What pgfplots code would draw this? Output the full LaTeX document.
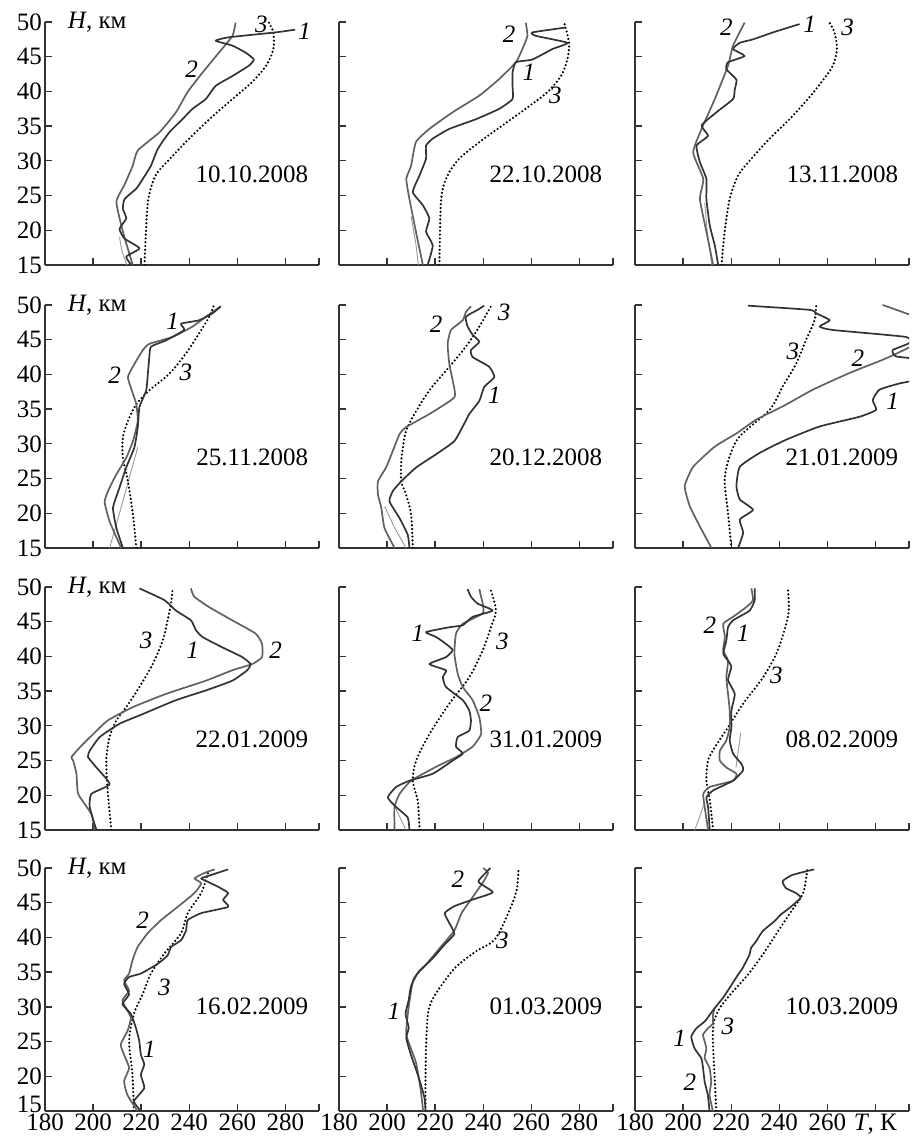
\documentclass[border=0pt]{standalone}
\usepackage{fontspec}
\setmainfont{Liberation Serif}
\usepackage{pgfplots}
\pgfplotsset{compat=1.18}
\pgfplotsset{
 panel/.style={
  scale only axis, width=274pt, height=243pt,
  xmin=180, xmax=294, ymin=15, ymax=50,
  xtick={180,200,...,280}, extra x ticks={294}, extra x tick labels={},
  ytick={15,20,...,50},
  axis x line*=bottom, axis y line*=left,
  axis line style={line width=1.3pt, black!80},
  tick align=inside, major tick length=7pt,
  every tick/.style={line width=1.3pt, black!80},
  xticklabels={}, yticklabels={},
  xticklabel style={inner sep=3pt},
  yticklabel style={inner sep=3pt},
  clip mode=individual,
 },
 leftcol/.style={yticklabels={15,20,25,30,35,40,45,50}},
 botrow/.style={xticklabels={180,200,220,240,260,280}},
 l1/.style={black!80, line width=1.7pt, line join=round, smooth, tension=0.3},
 l2/.style={black!62, line width=1.7pt, line join=round, smooth, tension=0.3},
 l3/.style={black, line width=2.4pt, dash pattern=on 0pt off 3.8pt, line cap=round, smooth},
 lg/.style={black!40, line width=0.9pt},
}
\newcommand{\lab}[3]{\node[font=\itshape] at (axis cs:#1,#2) {#3};}
\begin{document}
\fontsize{25}{30}\selectfont
\begin{tikzpicture}
\useasboundingbox (0,0) rectangle (912pt,1139pt);
% ---------- Row 1 ----------
\begin{axis}[panel, leftcol, at={(45pt,1117pt)}, anchor=north west]
\addplot[lg] coordinates {(214,15) (212,17) (211,19)};
\addplot[l3] coordinates {(221.4,15) (222,19.8) (223,24.5) (226,27.9) (232,30.3) (240,33.2) (250,36.5) (258,38.9) (266,41.3) (272,43.7) (275,46.1) (275,48.5) (273,50)};
\addplot[l2] coordinates {(216.5,15) (212.4,19.8) (209.7,24.1) (213,26.5) (216.5,29.3) (218.6,31.5) (227.6,34.1) (234.5,37) (239.3,39.9) (245.5,42.7) (252.4,45.6) (258,48) (259.3,49.9)};
\addplot[l1] coordinates {(215.9,15) (213.8,16.2) (219.3,17.4) (213.1,18.8) (211,20.2) (213.8,21.7) (212.4,23.1) (213.1,24.5) (218,26) (220.7,27.4) (224.1,29.3) (226.9,31.7) (231.7,34.1) (237.2,36) (241.4,37.5) (246.9,38.9) (251,40.8) (257.9,42.2) (264.8,43.7) (266.9,44.6) (263.4,45.6) (257.9,46.6) (251,47.3) (256.6,47.8) (275.9,48.5) (284.1,48.9)};
\lab{270}{49.6}{3}\lab{288}{48.7}{1}\lab{241}{43.2}{2}
\node[anchor=base west] at (axis cs:186,49.1) {\textit{H}, км};
\node[anchor=east] at (axis cs:293,28) {10.10.2008};
\end{axis}
\begin{axis}[panel, at={(339pt,1117pt)}, anchor=north west]
\addplot[lg] coordinates {(213,15) (212,18) (210,22)};
\addplot[l3] coordinates {(221.8,15) (222.5,24.5) (225.2,27.9) (230,30.3) (238.4,32.7) (248,35.1) (257.7,37.5) (266.7,39.9) (272.3,42.2) (275,44.6) (275.7,47) (273.6,50)};
\addplot[l2] coordinates {(214.9,15) (212,19.8) (209.3,24.5) (208,27.4) (210,29.3) (212,32.7) (217.6,34.6) (227.3,37) (238.4,39.4) (246.7,41.8) (253.6,44.2) (256.3,46.1) (258.4,48) (257.7,49.9)};
\addplot[l1] coordinates {(216.9,15) (219,17.8) (216.2,19.8) (217.6,21.7) (214.9,23.6) (210.7,25.5) (213.5,27.9) (216.2,30.3) (216.2,32.2) (219,33.2) (225.9,34.6) (237,36) (246.7,37.5) (252.2,38.9) (252.2,40.8) (252.2,42.7) (253.6,44.2) (260.5,44.6) (268.8,46.1) (275,47) (261.9,48) (260.5,48.5) (274.3,49.2)};
\lab{250.8}{48.2}{2}\lab{259}{42.7}{1}\lab{270}{39.4}{3}
\node[anchor=east] at (axis cs:293,28) {22.10.2008};
\end{axis}
\begin{axis}[panel, at={(635pt,1117pt)}, anchor=north west]
\addplot[lg] coordinates {(212,15) (210,20) (209,24)};
\addplot[l3] coordinates {(216,15) (217.3,19.8) (219.4,24.5) (222.9,27.9) (228.4,30.3) (236,33.2) (244.3,36) (251.9,38.9) (257.5,41.3) (262.3,43.7) (264,46.1) (263,48.5) (260.9,49.9)};
\addplot[l2] coordinates {(212.5,15) (209.7,19.8) (207,24.5) (208.4,27.4) (204.2,31.2) (207.7,34.6) (213.2,38.9) (218.7,43.7) (220.8,46.6) (225.6,49.9)};
\addplot[l1] coordinates {(214.6,15) (213.2,17.8) (211.1,20.7) (209.7,24.5) (209.7,27.4) (207,29.8) (205.6,32.2) (210.4,33.6) (207.7,35.1) (213.9,37) (220.8,38.9) (221.5,40.3) (222.2,41.7) (218,43.2) (218.7,44.2) (225.6,45.1) (220.8,46.1) (223.6,47) (229.1,47.5) (237.4,48.5) (248.5,49.7)};
\lab{218}{49.2}{2}\lab{252.6}{49.7}{1}\lab{268.5}{49.2}{3}
\node[anchor=east] at (axis cs:293,28) {13.11.2008};
\end{axis}
% ---------- Row 2 ----------
\begin{axis}[panel, leftcol, at={(45pt,834pt)}, anchor=north west]
\addplot[lg] coordinates {(206.9,15) (211,20) (215,25) (218.6,29.5)};
\addplot[l3] coordinates {(218,15) (216.6,19.8) (214.5,24.6) (212.4,28) (212.4,30.9) (214.5,33.3) (218,35.7) (223.4,37.7) (231.7,40.1) (238.6,43) (244.1,45.9) (248.3,48.3) (250.3,50)};
\addplot[l2] coordinates {(211.7,15) (206.9,18.8) (204.8,21.7) (206.9,23.7) (209.7,25.6) (213.8,28) (216.6,30.4) (218.6,33.3) (218,35.7) (216.6,37.2) (214.5,39.6) (217.2,41.5) (220.7,43.5) (223.4,44.4) (233.1,45.4) (241.4,46.9) (246.9,48.3) (253.1,49.8)};
\addplot[l1] coordinates {(212.4,15) (209.7,17.9) (208.3,20.8) (211,23.7) (213.8,26.6) (217.2,29.5) (218.6,32.4) (219.3,35.3) (222.1,37.7) (222.8,40.1) (223.4,42.5) (224.1,44) (230.3,44.9) (237.9,46.4) (236.6,47.3) (244.1,47.8) (249.7,48.8) (253.1,49.8)};
\lab{233.1}{47.6}{1}\lab{209}{39.9}{2}\lab{238.6}{40.3}{3}
\node[anchor=base west] at (axis cs:186,49.1) {\textit{H}, км};
\node[anchor=east] at (axis cs:293,28) {25.11.2008};
\end{axis}
\begin{axis}[panel, at={(339pt,834pt)}, anchor=north west]
\addplot[lg] coordinates {(207.9,15) (203,18) (199,21)};
\addplot[l3] coordinates {(210.7,15) (210,19.8) (207.9,22.7) (205.9,24.6) (205.9,27.5) (206.6,29.5) (207.9,31.9) (211.4,34.3) (217.6,37.7) (225.9,41.1) (232.8,44) (238.4,46.9) (243.2,49.8)};
\addplot[l2] coordinates {(203.1,15) (198.9,17.9) (197.6,20.8) (196.2,22.7) (196.2,24.6) (199.6,26.6) (202.4,29) (205.2,31.4) (207.9,32.4) (217.6,34.3) (228,36.7) (227.3,39.1) (225.9,41.5) (225.2,44.4) (226.6,46.4) (231.5,47.8) (232.8,49) (234.9,49.8)};
\addplot[l1] coordinates {(209.3,15) (208.6,16.9) (205.2,19.3) (201,21.7) (202.4,23.2) (205.9,24.6) (212.1,26.6) (220.4,28.5) (228,30.4) (232.1,32.9) (234.2,34.3) (238.4,36.2) (240.4,38.2) (244.6,39.6) (242.5,41.1) (235.6,42.5) (234.9,43.5) (238.4,44.7) (235.6,45.7) (233.5,46.9) (232.8,48.3) (237.7,49.3) (240.4,49.9)};
\lab{220.4}{47.3}{2}\lab{244.6}{37}{1}\lab{248.7}{49}{3}
\node[anchor=east] at (axis cs:293,28) {20.12.2008};
\end{axis}
\begin{axis}[panel, at={(635pt,834pt)}, anchor=north west]
\addplot[l3] coordinates {(220.1,15) (218.7,20) (217.3,24.8) (219.4,28.2) (223.6,31.1) (236,34.9) (241.5,38.3) (247.1,41.6) (251.2,45) (254.7,47.8) (255.4,50)};
\addplot[l2] coordinates {(211.8,15) (207,18.1) (202.8,21) (200.7,23.9) (204.2,26.7) (213.2,29.6) (222.2,31.5) (230.5,33.5) (241.5,35.4) (254,37.8) (269.2,40.2) (283,42.1) (290.6,43.3) (300,45) (302,47) (295,48.5) (283,50)};
\addplot[l1] coordinates {(222.9,15) (225,17.2) (223.6,19.1) (229.1,20.5) (223.6,22) (222.2,23.9) (223.6,26.7) (231.9,28.7) (242.9,30.6) (256.8,32.5) (273.4,33.9) (280.3,34.9) (278.9,36.3) (281.7,37.8) (290,38.7) (300,39.5) (300,42) (288.6,42.6) (287.2,43.5) (294,44.5) (292.7,45.4) (262.3,46.4) (256.8,46.9) (261,47.8) (255.4,48.8) (252.6,49.3) (227,49.9)};
\lab{245.7}{43.3}{3}\lab{272.7}{42.3}{2}\lab{287.2}{36.1}{1}
\node[anchor=east] at (axis cs:293,28) {21.01.2009};
\end{axis}
% ---------- Row 3 ----------
\begin{axis}[panel, leftcol, at={(45pt,552pt)}, anchor=north west]
\addplot[l3] coordinates {(207.6,15) (206.2,20.2) (205.5,25) (206.9,28.4) (209.7,30.8) (213.8,32.7) (219.3,35.6) (224.8,38.9) (229,42.3) (231,45.2) (232.4,47.6) (233.1,49.8)};
\addplot[l2] coordinates {(200.7,15) (199.3,17.3) (193.8,20.2) (193.1,23.1) (191.7,25) (191,25.5) (194.5,26.9) (200,28.8) (206.2,30.8) (216.6,32.7) (230.3,34.6) (246.9,36.5) (257.9,38) (266.2,38.9) (270.3,39.9) (270.3,41.8) (267.6,43.3) (257.9,45.2) (248.3,47.1) (242.1,48.6) (240.7,49.8)};
\addplot[l1] coordinates {(201.4,15) (198.6,18.3) (199.3,20.2) (206.9,21.6) (201.4,24) (197.9,25.5) (198.6,26.4) (202.8,28.4) (211,30.3) (220.7,31.7) (234.5,33.7) (246.9,35.1) (257.9,36.5) (264.1,38) (265.5,38.9) (262.1,39.9) (253.8,41.3) (245.5,42.8) (242.8,43.8) (240.7,45.2) (234.5,46.6) (229.7,48.1) (219.3,49.8)};
\lab{222.1}{42.3}{3}\lab{241.4}{40.9}{1}\lab{275.9}{40.9}{2}
\node[anchor=base west] at (axis cs:186,49.1) {\textit{H}, км};
\node[anchor=east] at (axis cs:293,28) {22.01.2009};
\end{axis}
\begin{axis}[panel, at={(339pt,552pt)}, anchor=north west]
\addplot[lg] coordinates {(207.9,15) (203,18.5)};
\addplot[l3] coordinates {(213.5,15) (212.8,19.1) (210.7,22.1) (212.1,25) (217.6,28.8) (225.9,33.2) (234.2,37) (239.8,40.9) (243.2,44.2) (245.3,46.6) (243.2,49.5)};
\addplot[l2] coordinates {(203.1,15) (203.1,18.3) (205.2,20.2) (210,22.1) (220.4,24.1) (228.7,25.5) (235.6,27) (239.1,28.8) (238.4,31.2) (235.6,33.7) (231.5,35.6) (229.4,37.5) (228,40.4) (228.7,43.3) (231.5,44.7) (239.8,46.2) (239.8,47.6) (239.1,48.6) (238.4,49.7)};
\addplot[l1] coordinates {(209.3,15) (208.6,16.8) (203.8,18.3) (200.3,19.7) (203.8,21.2) (209.3,22.1) (219,23.1) (227.3,25) (231.5,26) (228.7,27) (229.4,28.4) (234.2,29.3) (234.9,30.8) (234.2,32.2) (231.5,33.7) (224.5,35.6) (223.2,37) (224.5,38) (217.6,38.9) (224.5,39.9) (227.3,40.9) (224.5,41.8) (220.4,42.8) (216.2,43.5) (225.9,44.2) (231.5,44.5) (235.6,45.7) (243.9,46.6) (237.7,47.6) (234.9,48.6) (233.5,49.7)};
\lab{212.8}{43.3}{1}\lab{248}{42.1}{3}\lab{241.1}{33.2}{2}
\node[anchor=east] at (axis cs:293,28) {31.01.2009};
\end{axis}
\begin{axis}[panel, at={(635pt,552pt)}, anchor=north west]
\addplot[lg] coordinates {(204.9,15) (209,19)};
\addplot[lg] coordinates {(222,24) (224,29)};
\addplot[l3] coordinates {(212.5,15) (211.1,19.3) (209.7,22.2) (210.4,25) (213.2,26.9) (218.7,29.8) (225,33.2) (233.3,37) (238.8,40.4) (242.2,43.8) (244,46.6) (243.6,49.8)};
\addplot[l2] coordinates {(210.4,15) (209,18.3) (208.4,20.2) (211.1,21.2) (220.8,22.1) (222.2,23.1) (218,24) (215.3,25) (215.3,26.4) (218,27.9) (219.4,29.8) (219.4,32.2) (218.7,34.6) (218,37) (218.7,39.4) (216.7,40.9) (217.4,42.8) (216.7,44.7) (220.8,45.7) (226.3,47.1) (229.1,48.1) (228.4,49.8)};
\addplot[l1] coordinates {(211.1,15) (210.4,18.3) (209.7,19.7) (212.5,20.7) (220.8,22.1) (225,23.6) (224.3,24.5) (220.8,26) (219.4,27.9) (220.1,29.8) (220.1,32.2) (221.5,34.6) (218.7,36.6) (220.1,38.5) (218.7,39.4) (216.7,40.4) (218,42.3) (218.7,44.2) (220.8,45.2) (227.7,46.6) (229.8,48.1) (229.8,49.8)};
\lab{211.1}{44.5}{2}\lab{225}{43.3}{1}\lab{238.8}{37.3}{3}
\node[anchor=east] at (axis cs:293,28) {08.02.2009};
\end{axis}
% ---------- Row 4 ----------
\begin{axis}[panel, botrow, yticklabels={\raisebox{14pt}{15},20,25,30,35,40,45,50}, at={(45pt,271pt)}, anchor=north west]
\addplot[l3] coordinates {(217,15) (216.4,20.2) (215,25.1) (217,29) (220.6,31.8) (224.1,34.8) (229.7,37.7) (236.6,40.6) (239.4,43.5) (245,46.4) (247.8,49.3)};
\addplot[l2] coordinates {(218.5,15) (214.3,17.3) (212.9,19.3) (215,21.2) (212.9,23.1) (211.5,24.6) (214.3,26.5) (215.7,28.5) (212.2,30.9) (215,32.3) (212.9,33.8) (215,34.8) (216.4,36.7) (218.5,38.6) (222.7,40.6) (228.3,42.5) (235.2,44.4) (242.2,46.4) (245,47.8) (242.2,48.5) (246.4,49.3) (250.6,49.8)};
\addplot[l1] coordinates {(219.9,15) (217,16.4) (221.3,18.3) (219.9,20.2) (221.3,21.7) (219.9,23.1) (219.2,25.1) (217.8,27) (215.7,29) (212.2,30.4) (215,31.8) (212.9,33.3) (215,34.3) (219.9,34.8) (226.9,36.2) (231,37.4) (232.4,38.6) (236.6,39.6) (238.7,41) (239.4,42.5) (245,43.5) (256.2,44.4) (254.1,45.4) (256.2,46.4) (252,47.3) (247.8,48) (245,48.5) (249.2,49) (256.2,49.8)};
\lab{220.6}{42.5}{2}\lab{229.7}{32.8}{3}\lab{223.4}{23.9}{1}
\node[anchor=base west] at (axis cs:186,49.1) {\textit{H}, км};
\node[anchor=east] at (axis cs:293,30) {16.02.2009};
\end{axis}
\begin{axis}[panel, botrow, at={(339pt,271pt)}, anchor=north west]
\addplot[l3] coordinates {(216,15) (216,20) (216.3,25) (217,29) (218.5,30.8) (222,32.8) (228.5,35.7) (237,38) (245,39.8) (251.4,44.3) (254,47) (254.7,50)};
\addplot[l2] coordinates {(215,15) (214,18) (212,22) (208,26) (209,30) (211,34) (216,36) (222,38.5) (228,41) (231,43.5) (236,46) (240,48) (242,49.3) (240,50)};
\addplot[l1] coordinates {(216,15) (215.5,17) (213,20) (210,23) (208,25.5) (209,27) (207.7,29) (209,31) (210,33) (213,35) (219,37) (224,39) (228,40.5) (226,42) (224,43.5) (228,44.5) (236,45.5) (244,46.5) (238,48) (241,49.3) (243,50)};
\lab{202.8}{29.4}{1}\lab{229.5}{48.4}{2}\lab{248}{39.6}{3}
\node[anchor=east] at (axis cs:293,30) {01.03.2009};
\end{axis}
\begin{axis}[panel, xticklabels={180,200,220,240,260,{\textit{T}, К}}, at={(635pt,271pt)}, anchor=north west]
\addplot[l3] coordinates {(213.8,15) (213.1,20.2) (212.4,25) (212.7,27.6) (215.2,29.8) (220.7,32.2) (226.9,34.6) (233.1,37.5) (238.6,40.4) (244.1,43.3) (249.7,46.2) (251,48.1) (251.7,49.8)};
\addplot[l2] coordinates {(212.4,15) (211,17.3) (211.7,19.2) (211,21.2) (209,22.6) (209.7,24) (209,25) (208.3,26) (210.3,26.9) (212.4,27.6) (212.4,28.8) (213.1,29.8)};
\addplot[l1] coordinates {(211,15) (210.3,17.3) (209,19.2) (208.3,21.2) (207.6,22.6) (204.8,24) (203.4,25.7) (205.5,26.9) (209,27.9) (211,28.8) (213.1,29.8) (216.6,31.3) (219.3,32.7) (222.8,34.6) (224.8,35.6) (227.6,37.5) (228.3,38.5) (230.3,39.4) (233.1,40.9) (237.9,42.3) (240.7,43.3) (244.1,44.2) (248.9,45.7) (246.9,46.4) (242.8,47.1) (241.4,48.1) (245.5,49) (254.5,49.8)};
\lab{198.6}{25.5}{1}\lab{202.8}{19.2}{2}\lab{218.6}{27.2}{3}
\node[anchor=east] at (axis cs:293,30) {10.03.2009};
\end{axis}
\end{tikzpicture}
\end{document}
